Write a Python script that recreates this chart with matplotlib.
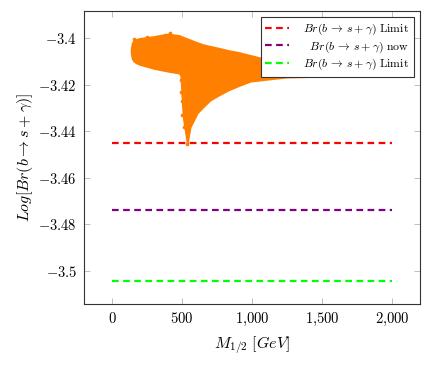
import matplotlib
matplotlib.use("Agg")
import matplotlib.pyplot as plt
from matplotlib.ticker import FuncFormatter

plt.rcParams['mathtext.fontset'] = 'cm'
plt.rcParams['font.family'] = ['DejaVu Serif']

# Dense scan region (M_1/2 in GeV) : upper / lower envelope of Log[Br]
m_scan = [138, 145, 155, 175, 200, 300, 400, 480, 492, 498, 505, 512, 521, 530, 538, 546,
          557, 580, 607, 650, 700, 760, 829, 900, 986, 1100, 1250, 1500, 1750, 2000]
br_upper = [-3.4045, -3.4022, -3.4012, -3.4006, -3.4002, -3.3994, -3.3983, -3.3990,
            -3.3993, -3.3995, -3.3996, -3.3998, -3.4000, -3.4002, -3.4004, -3.4006,
            -3.4008, -3.4014, -3.4020, -3.4029, -3.4036, -3.4044, -3.4054, -3.4062,
            -3.4075, -3.4092, -3.4108, -3.4125, -3.4137, -3.4145]
br_lower = [-3.4065, -3.4088, -3.4098, -3.4107, -3.4113, -3.4130, -3.4142, -3.4150,
            -3.4160, -3.4220, -3.4300, -3.4350, -3.4385, -3.4420, -3.4452, -3.4420,
            -3.4382, -3.4355, -3.4322, -3.4295, -3.4266, -3.4245, -3.4223, -3.4205,
            -3.4185, -3.4177, -3.4167, -3.4164, -3.4163, -3.4163]

# Individual scattered points at the fringes
m_pts = [414, 380, 250, 160, 490, 494, 497, 502, 512, 536, 560, 600, 700]
br_pts = [-3.3980, -3.3985, -3.3995, -3.4005, -3.4180, -3.4230, -3.4270,
          -3.4330, -3.4380, -3.4455, -3.4180, -3.4170, -3.4180]

# Reference lines
line_x = [0, 2000]
br_limit_1 = -3.445
br_now = -3.474
br_limit_2 = -3.5045

xticks = [0, 500, 1000, 1500, 2000]
yticks = [-3.4, -3.42, -3.44, -3.46, -3.48, -3.5]

orange = '#ff8000'

fig = plt.figure(figsize=(4.31, 3.76), dpi=100)
ax = fig.add_axes([84/431, 1 - 304/376, 336/431, 293/376])

ax.fill_between(m_scan, br_lower, br_upper, color=orange, lw=1.5, edgecolor=orange, zorder=2)
ax.scatter(m_pts, br_pts, s=7, color=orange, lw=0, zorder=2)

l1, = ax.plot(line_x, [br_limit_1] * 2, color='#ff0000', lw=1.6, dashes=(3, 2),
              label=r'$Br(b\,\rightarrow\, s+\gamma)\ \mathrm{Limit}$', zorder=3)
l2, = ax.plot(line_x, [br_now] * 2, color='#800080', lw=1.6, dashes=(3, 2),
              label=r'$\ \ Br(b\,\rightarrow\, s+\gamma)\ \mathrm{now}$', zorder=3)
l3, = ax.plot(line_x, [br_limit_2] * 2, color='#00ff00', lw=1.6, dashes=(3, 2),
              label=r'$Br(b\,\rightarrow\, s+\gamma)\ \mathrm{Limit}$', zorder=3)

ax.set_xlim(-200, 2200)
ax.set_ylim(-3.5142, -3.3884)
ax.set_xticks(xticks)
ax.set_yticks(yticks)
ax.xaxis.set_major_formatter(FuncFormatter(
    lambda v, p: '$' + ('{:,}'.format(int(v)).replace(',', '{,}')) + '$'))
ax.yaxis.set_major_formatter(FuncFormatter(
    lambda v, p: '$' + ('%g' % v) + '$'))
ax.tick_params(direction='in', length=4, width=0.6, color='0.7',
               top=True, right=True, labelsize=10.5, pad=5)
for sp in ax.spines.values():
    sp.set_linewidth(0.8)
    sp.set_color('0.2')

ax.set_xlabel(r'$M_{1/2}\ [GeV]$', fontsize=11.5, labelpad=4)
ax.set_ylabel(r'$Log[Br(b\rightarrow s+\gamma)]$', fontsize=11.5, labelpad=2)

leg = ax.legend(handles=[l1, l2, l3], loc='upper right', bbox_to_anchor=(0.982, 0.98),
                borderaxespad=0, fontsize=8.5, handlelength=2.0, handletextpad=1.2,
                fancybox=False, framealpha=1, edgecolor='0.2', borderpad=0.4,
                labelspacing=0.2)
leg.get_frame().set_linewidth(0.8)

fig.savefig('out.png', dpi=100)
